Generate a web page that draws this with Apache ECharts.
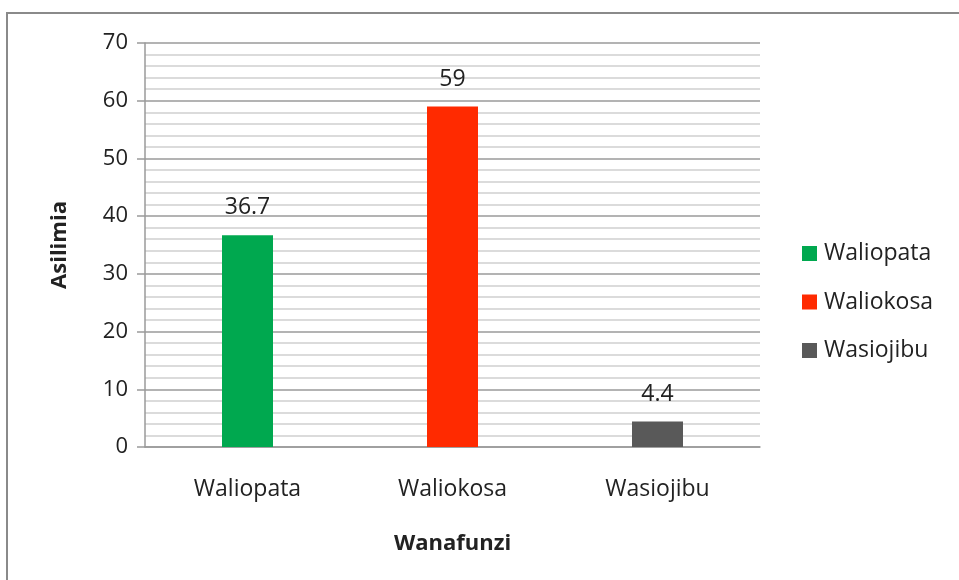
<!DOCTYPE html>
<html>
<head>
<meta charset="utf-8">
<script src="https://cdn.jsdelivr.net/npm/echarts@6/dist/echarts.min.js"></script>
<style>
  html, body { margin: 0; padding: 0; background: #fff; }
  .frame {
    position: absolute;
    left: 6px;
    top: 12px;
    width: 980px;
    height: 600px;
    border: 2px solid #8a8a8a;
  }
  #chart {
    position: absolute;
    top: 0;
    left: 0;
    width: 959px;
    height: 580px;
  }
</style>
</head>
<body>
<div class="frame"></div>
<div id="chart"></div>
<script>
const categories = ['Waliopata', 'Waliokosa', 'Wasiojibu'];
const seriesNames = ['Waliopata', 'Waliokosa', 'Wasiojibu'];
const values = [36.7, 59, 4.4];
const colors = ['#00a84f', '#ff2a00', '#595959'];

const labelFont = '"Open Sans", "DejaVu Sans", sans-serif';

// one series per legend entry, each only filled at its own category
const series = seriesNames.map((name, i) => ({
  name: name,
  type: 'bar',
  barWidth: 51,
  barGap: '-100%',
  data: categories.map((c, j) => (j === i ? values[i] : '-')),
  itemStyle: { color: colors[i] },
  label: {
    show: true,
    position: 'top',
    distance: 16,
    color: '#222',
    fontSize: 23,
    fontFamily: labelFont
  }
}));

const chart = echarts.init(document.getElementById('chart'));
chart.setOption({
  animation: false,
  grid: {
    left: 145,
    right: 199,
    top: 43,
    bottom: 133,
    containLabel: false
  },
  legend: {
    orient: 'vertical',
    left: 797,
    top: 237,
    itemWidth: 15,
    itemHeight: 15,
    itemGap: 25.5,
    icon: 'rect',
    textStyle: { fontSize: 23, color: '#222', fontFamily: labelFont, padding: [0, 0, 0, 2] },
    data: seriesNames
  },
  xAxis: {
    type: 'category',
    data: categories,
    name: 'Wanafunzi',
    nameLocation: 'middle',
    nameGap: 86,
    nameTextStyle: { fontSize: 22, fontWeight: 'bold', color: '#222', fontFamily: labelFont },
    axisLine: { lineStyle: { color: '#9a9a9a', width: 1.5 } },
    axisTick: { show: false },
    axisLabel: { margin: 31, fontSize: 23, color: '#222', fontFamily: labelFont }
  },
  yAxis: {
    type: 'value',
    min: 0,
    max: 70,
    interval: 10,
    name: 'Asilimia',
    nameLocation: 'middle',
    nameGap: 74,
    nameTextStyle: { fontSize: 22, fontWeight: 'bold', color: '#222', fontFamily: labelFont },
    axisLine: { show: true, lineStyle: { color: '#9a9a9a', width: 1.5 } },
    axisTick: { show: true, inside: false, length: 8, lineStyle: { color: '#9a9a9a', width: 1.5 } },
    axisLabel: { margin: 17, fontSize: 22, color: '#222', fontFamily: labelFont },
    splitLine: { show: true, lineStyle: { color: '#9a9a9a', width: 1.5 } },
    minorTick: { show: false, splitNumber: 5 },
    minorSplitLine: { show: true, lineStyle: { color: '#d0d0d0', width: 1.5 } }
  },
  series: series
});
</script>
</body>
</html>
